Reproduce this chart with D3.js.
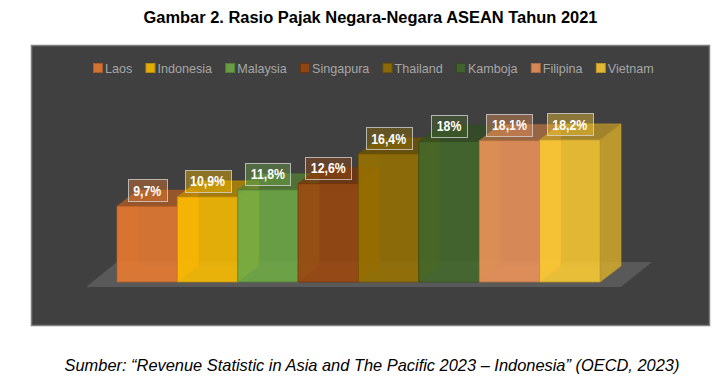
<!DOCTYPE html>
<html>
<head>
<meta charset="utf-8">
<script src="https://cdn.jsdelivr.net/npm/d3@7"></script>
<style>
  html, body { margin: 0; padding: 0; background: #fff; }
  svg { display: block; font-family: "Liberation Sans", Arial, sans-serif; }
</style>
</head>
<body>
<svg></svg>
<script>
// data
var countries = ['Laos', 'Indonesia', 'Malaysia', 'Singapura', 'Thailand', 'Kamboja', 'Filipina', 'Vietnam'];
var taxRatio = [9.7, 10.9, 11.8, 12.6, 16.4, 18, 18.1, 18.2];
var ratioLabels = ['9,7%', '10,9%', '11,8%', '12,6%', '16,4%', '18%', '18,1%', '18,2%'];
var barColors = ['#ED7D31', '#FFC000', '#70AD47', '#9E480E', '#997300', '#43682B', '#F1975A', '#FFCD33'];

var width = 724;
var height = 385;
var depthX = 21; // 3d offset of the back of the box
var depthY = 16;

var svg = d3.select('svg').attr('width', width).attr('height', height);

var scaleX = d3.scaleBand().domain(countries).range([117, 600]);
var scaleY = d3.scaleLinear().domain([0, 18.2]).range([282, 140]);
var colorOf = d3.scaleOrdinal().domain(countries).range(barColors);

var rows = countries.map((c, i) => ({ name: c, value: taxRatio[i], label: ratioLabels[i] }));

// squeeze a text to a share of its natural width, the reference font runs narrow
function squeeze(sel, share) {
  sel.each(function () {
    var w = this.getComputedTextLength() * share;
    d3.select(this).attr('textLength', w).attr('lengthAdjust', 'spacingAndGlyphs');
  });
  return sel;
}

svg.append('text')
  .attr('x', 370.5).attr('y', 23)
  .attr('text-anchor', 'middle')
  .attr('font-size', 17.4).attr('font-weight', 'bold').attr('fill', '#000')
  .text('Gambar 2. Rasio Pajak Negara-Negara ASEAN Tahun 2021')
  .call(squeeze, 0.945);

svg.append('rect')
  .attr('x', 31.5).attr('y', 45.5).attr('width', 678).attr('height', 280)
  .attr('fill', '#404040').attr('stroke', '#7f7f7f').attr('stroke-width', 1.5);

// floor
var floorLeft = 86, floorRight = 621, floorFront = 287;
svg.append('path')
  .attr('d', d3.line()([
    [floorLeft, floorFront], [floorRight, floorFront],
    [floorRight + 31, floorFront - 25], [floorLeft + 31, floorFront - 25]
  ]))
  .attr('fill', '#595959');

// legend, laid out from the measured text widths
var legendX = 93;
rows.forEach(d => {
  var g = svg.append('g').attr('transform', `translate(${legendX},0)`);
  g.append('rect')
    .attr('x', 0.5).attr('y', 63.5).attr('width', 9).attr('height', 9)
    .attr('fill', colorOf(d.name)).attr('fill-opacity', 0.85)
    .attr('stroke', d3.color(colorOf(d.name)).darker(0.9));
  var t = g.append('text')
    .attr('x', 12).attr('y', 72.5)
    .attr('font-size', 13.1).attr('fill', '#a6a6a6')
    .text(d.name)
    .call(squeeze, 0.96);
  legendX += 12 + (+t.attr('textLength')) + 13.2;
});

// bars, left to right so each one sits over the side of the one before
var bars = svg.selectAll('g.bar').data(rows).enter().append('g').attr('class', 'bar');

function face(sel, pts, fill, opacity) {
  sel.append('path')
    .attr('d', d => d3.line()(pts(d)) + 'Z')
    .attr('fill', fill).attr('fill-opacity', opacity)
    .attr('stroke', d => d3.color(colorOf(d.name)).darker(0.9))
    .attr('stroke-opacity', 0.75);
}

var x0 = d => scaleX(d.name);
var x1 = d => scaleX(d.name) + scaleX.bandwidth();
var yTop = d => scaleY(d.value);
var yBase = scaleY(0);

// right wall
face(bars, d => [[x1(d), yTop(d)], [x1(d) + depthX, yTop(d) - depthY], [x1(d) + depthX, yBase - depthY], [x1(d), yBase]],
  d => d3.color(colorOf(d.name)).darker(0.45), 0.8);
// top
face(bars, d => [[x0(d), yTop(d)], [x1(d), yTop(d)], [x1(d) + depthX, yTop(d) - depthY], [x0(d) + depthX, yTop(d) - depthY]],
  d => d3.color(colorOf(d.name)).darker(0.8), 0.75);
// front
face(bars, d => [[x0(d), yTop(d)], [x1(d), yTop(d)], [x1(d), yBase], [x0(d), yBase]],
  d => colorOf(d.name), 0.85);
// inner left wall and floor of the box, seen through the front
bars.append('path')
  .attr('d', d => d3.line()([[x0(d), yTop(d)], [x0(d) + depthX, yTop(d)], [x0(d) + depthX, yBase - depthY], [x0(d), yBase]]) + 'Z')
  .attr('fill', d => colorOf(d.name)).attr('fill-opacity', 0.22);
bars.append('path')
  .attr('d', d => d3.line()([[x0(d), yBase], [x0(d) + depthX, yBase - depthY], [x1(d), yBase - depthY], [x1(d), yBase]]) + 'Z')
  .attr('fill', d => colorOf(d.name)).attr('fill-opacity', 0.1);

// value labels
var labels = svg.selectAll('g.label').data(rows).enter().append('g').attr('class', 'label');

var labelText = labels.append('text')
  .attr('x', d => x0(d) + scaleX.bandwidth() / 2)
  .attr('y', d => yTop(d) - 10.5)
  .attr('text-anchor', 'middle')
  .attr('font-size', 15).attr('font-weight', 'bold').attr('fill', '#fff')
  .text(d => d.label);

labelText.each(function (d) {
  var textWidth = this.getComputedTextLength() * 0.82;
  d3.select(this).attr('textLength', textWidth).attr('lengthAdjust', 'spacingAndGlyphs');
  var w = textWidth + 11;
  d3.select(this.parentNode).insert('rect', 'text')
    .attr('x', Math.round(x0(d) + scaleX.bandwidth() / 2 - w / 2) + 0.5)
    .attr('y', Math.round(yTop(d) - 27) + 0.5)
    .attr('width', Math.round(w)).attr('height', 22)
    .attr('fill', colorOf(d.name)).attr('fill-opacity', 0.4)
    .attr('stroke', '#d9d9d9').attr('stroke-opacity', 0.75);
});

svg.append('text')
  .attr('x', 372).attr('y', 371)
  .attr('text-anchor', 'middle')
  .attr('font-size', 17).attr('font-style', 'italic').attr('fill', '#000')
  .text('Sumber: “Revenue Statistic in Asia and The Pacific 2023 – Indonesia” (OECD, 2023)')
  .call(squeeze, 0.965);
</script>
</body>
</html>
